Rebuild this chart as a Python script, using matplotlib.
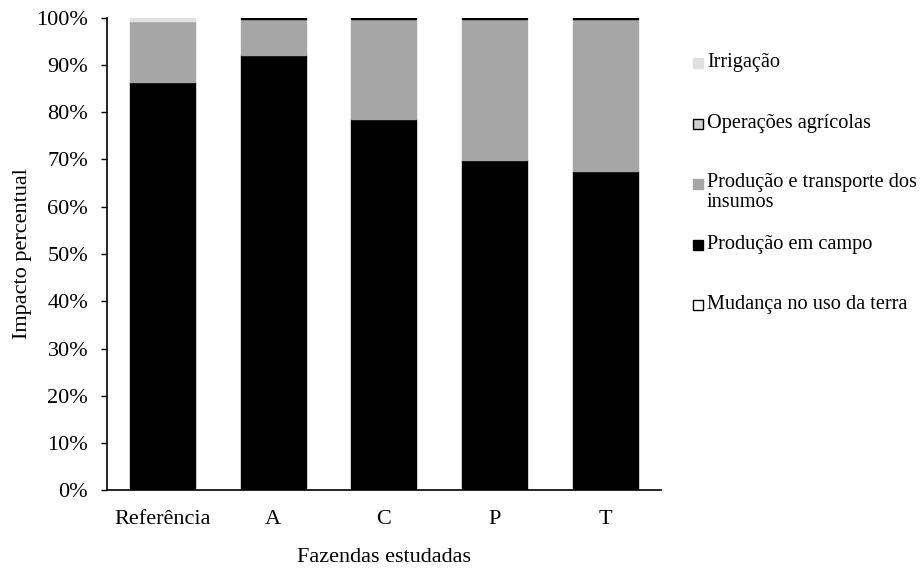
import numpy as np
import matplotlib
matplotlib.use("Agg")
import matplotlib.pyplot as plt
from matplotlib.patches import Rectangle

plt.rcParams['font.family'] = ['Liberation Serif', 'DejaVu Serif']

fazendas = ['Referência', 'A', 'C', 'P', 'T']

# stacked from bottom to top (percent)
mudanca = [0.0, 0.0, 0.0, 0.0, 0.0]
campo = [86.3, 92.2, 78.5, 69.8, 67.6]
insumos = [13.0, 7.5, 21.2, 29.9, 32.1]
operacoes = [0.0, 0.3, 0.3, 0.3, 0.3]
irrigacao = [0.7, 0.0, 0.0, 0.0, 0.0]

series = [
    ('Mudança no uso da terra', mudanca, 'white', 'black'),
    ('Produção em campo', campo, 'black', 'black'),
    ('Produção e transporte dos\ninsumos', insumos, '#a6a6a6', '#a6a6a6'),
    ('Operações agrícolas', operacoes, '#d0d0d0', 'black'),
    ('Irrigação', irrigacao, '#e0e0e0', '#e0e0e0'),
]

fig = plt.figure(figsize=(9.22, 5.69), dpi=100)
ax = fig.add_axes([0.116, 0.138, 0.6006, 0.831])

x = np.arange(len(fazendas))
bottom = np.zeros(len(fazendas))
for name, vals, fc, ec in series:
    vals = np.array(vals)
    lw = np.where(vals > 0, 1.0, 0.0)
    ax.bar(x, vals, 0.587, bottom=bottom, color=fc, edgecolor=ec, linewidth=lw)
    bottom += vals

ax.set_xlim(-0.5, len(fazendas) - 0.5)
ax.set_ylim(0, 100)
ax.set_yticks(np.arange(0, 101, 10))
ax.set_yticklabels([f'{v}%' for v in range(0, 101, 10)])
ax.set_xticks(x)
ax.set_xticklabels(fazendas)
ax.tick_params(axis='y', length=4.5, width=1, direction='out', labelsize=16, pad=9)
ax.tick_params(axis='x', length=0, labelsize=16, pad=14)
for s in ['top', 'right']:
    ax.spines[s].set_visible(False)
for s in ['left', 'bottom']:
    ax.spines[s].set_linewidth(1.2)
ax.set_xlabel('Fazendas estudadas', fontsize=16, labelpad=14)
ax.set_ylabel('Impacto percentual', fontsize=16, labelpad=3)

# legend drawn like the original (markers evenly spaced, label wraps below)
W, H = 922, 569
leg_order = [4, 3, 2, 1, 0]
y0, step = 63, 60.5
for i, k in enumerate(leg_order):
    name, _, fc, ec = series[k]
    yc = y0 + i * step
    fig.patches.append(Rectangle((693 / W, 1 - (yc + 5) / H), 10 / W, 10 / H,
                                 facecolor=fc, edgecolor=ec,
                                 linewidth=1, transform=fig.transFigure))
    if '\n' in name:
        fig.text(707 / W, 1 - (yc - 11) / H, name, fontsize=14.6, va='top',
                 linespacing=1.05, transform=fig.transFigure)
    else:
        fig.text(707 / W, 1 - yc / H, name, fontsize=14.6, va='center',
                 transform=fig.transFigure)

fig.savefig('out.png', dpi=100)
